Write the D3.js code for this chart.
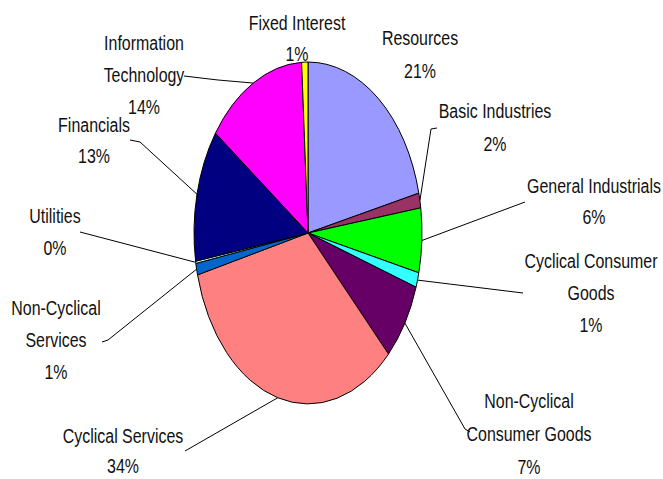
<!DOCTYPE html>
<html>
<head>
<meta charset="utf-8">
<script src="https://cdn.jsdelivr.net/npm/d3@7"></script>
<style>
  html, body { margin: 0; padding: 0; background: #fff; }
  svg { display: block; }
  .lbl { font-family: "Liberation Sans", Arial, sans-serif; font-size: 21px; fill: #111; }
</style>
</head>
<body>
<div id="chart"></div>
<script>
// sectors, clockwise from 12 o'clock
var sectors = ["Resources", "Basic Industries", "General Industrials", "Cyclical Consumer Goods",
               "Non-Cyclical Consumer Goods", "Cyclical Services", "Non-Cyclical Services",
               "Utilities", "Financials", "Information Technology", "Fixed Interest"];
var weights = [21.3, 1.4, 6.1, 1.4, 7.4, 33.6, 1.1, 0.2, 12.6, 14.2, 0.9];
var pctLabels = ["21%", "2%", "6%", "1%", "7%", "34%", "1%", "0%", "13%", "14%", "1%"];
var labelLines = [
  ["Resources"], ["Basic Industries"], ["General Industrials"], ["Cyclical Consumer", "Goods"],
  ["Non-Cyclical", "Consumer Goods"], ["Cyclical Services"], ["Non-Cyclical", "Services"],
  ["Utilities"], ["Financials"], ["Information", "Technology"], ["Fixed Interest"]
];
var colors = ["#9999ff", "#993366", "#00ff00", "#33ffff", "#660066", "#ff8080",
              "#0066cc", "#ccffff", "#000080", "#ff00ff", "#ffff00"];

// label placement: centre x, first baseline, line gap, leader bend points (null = no leader)
var layout = [
  {x: 420, y: 45, gap: 33, leader: null},
  {x: 495, y: 118, gap: 33, leader: [[431, 129], [437, 128]]},
  {x: 594, y: 193, gap: 31, leader: [[525, 202]]},
  {x: 591, y: 268, gap: 32, leader: [[523, 293]]},
  {x: 529, y: 408, gap: 33, leader: [[465, 429], [470, 432]]},
  {x: 123, y: 443, gap: 30, leader: [[185, 451]]},
  {x: 56, y: 315, gap: 32, leader: [[108, 340], [102, 342]]},
  {x: 55, y: 223, gap: 32, leader: [[80, 232]]},
  {x: 94, y: 132, gap: 31, leader: [[140, 142], [130, 140]]},
  {x: 144, y: 50, gap: 32, leader: [[218, 80], [184, 76]]},
  {x: 297, y: 30, gap: 31, leader: null}
];

var width = 663, height = 479;
var cx = 308, cy = 233, rx = 114, ry = 171;

var svg = d3.select("#chart").append("svg")
    .attr("width", width)
    .attr("height", height);

var pie = d3.pie().sort(null).value(function(d) { return d; });
var arcs = pie(weights);
var arc = d3.arc().innerRadius(0).outerRadius(1);

// unit circle squashed into the ellipse
var g = svg.append("g")
    .attr("transform", "translate(" + cx + "," + cy + ") scale(" + rx + "," + ry + ")");

g.selectAll("path")
  .data(arcs)
  .enter().append("path")
    .attr("d", arc)
    .attr("fill", function(d, i) { return colors[i]; })
    .attr("stroke", "#000")
    .attr("stroke-width", 1)
    .attr("vector-effect", "non-scaling-stroke");

function edgePoint(d) {
  var a = (d.startAngle + d.endAngle) / 2;
  return [cx + rx * Math.sin(a), cy - ry * Math.cos(a)];
}

var line = d3.line();

arcs.forEach(function(d, i) {
  var l = layout[i];
  if (l.leader) {
    svg.append("path")
      .attr("d", line([edgePoint(d)].concat(l.leader)))
      .attr("fill", "none")
      .attr("stroke", "#000")
      .attr("stroke-width", 1);
  }
  var lines = labelLines[i].concat([pctLabels[i]]);
  lines.forEach(function(txt, j) {
    svg.append("text")
      .attr("class", "lbl")
      .attr("text-anchor", "middle")
      .attr("transform", "translate(" + l.x + "," + (l.y + j * l.gap) + ") scale(0.76,1)")
      .text(txt);
  });
});
</script>
</body>
</html>
